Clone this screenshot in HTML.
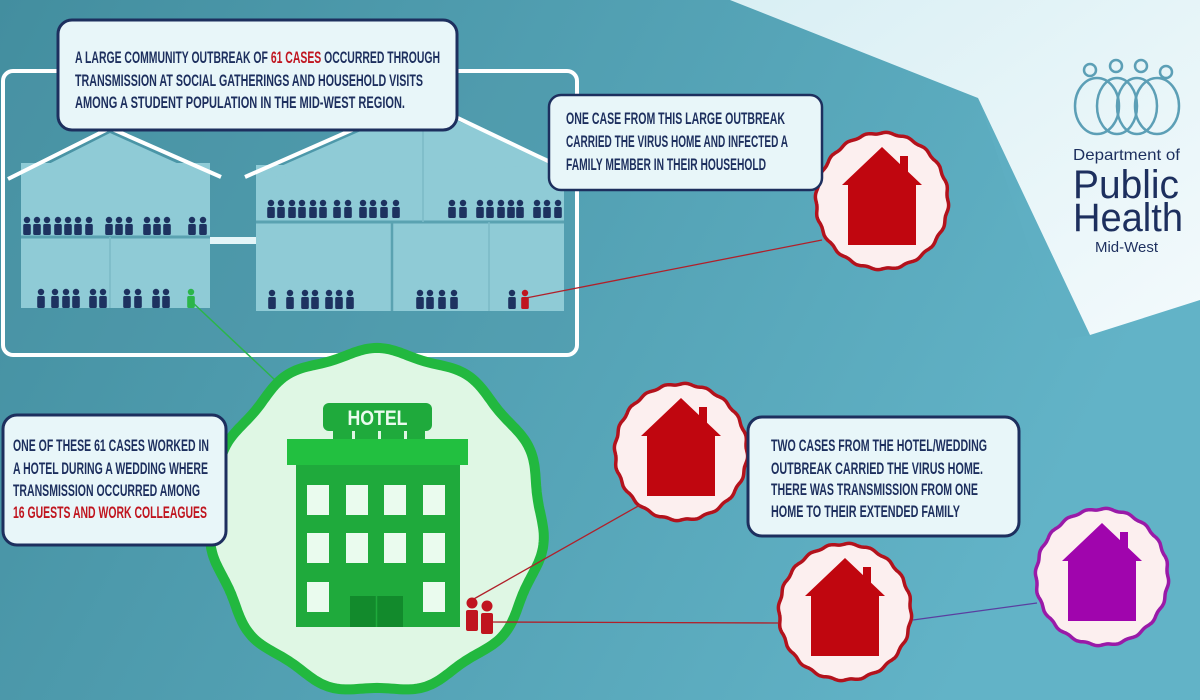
<!DOCTYPE html>
<html><head><meta charset="utf-8"><style>
html,body{margin:0;padding:0;width:1200px;height:700px;overflow:hidden}
svg{display:block}
text{font-family:"Liberation Sans Narrow","Liberation Sans",sans-serif;font-weight:bold}
.t{fill:#1d2f5e;font-size:17px}
.r{fill:#c0151f}
</style></head><body>
<svg id="s" width="1200" height="700" viewBox="0 0 1200 700" xmlns="http://www.w3.org/2000/svg">
<defs>
<linearGradient id="bg" x1="0" y1="0" x2="1" y2="0.3">
<stop offset="0" stop-color="#438e9f"/><stop offset="1" stop-color="#62b3c7"/></linearGradient>
<linearGradient id="lt" x1="0" y1="0" x2="1" y2="1">
<stop offset="0" stop-color="#d9eff4"/><stop offset="1" stop-color="#f3fafc"/></linearGradient>
</defs>
<rect width="1200" height="700" fill="url(#bg)"/>
<polygon points="730,0 1200,0 1200,300 1090,335 978,98" fill="url(#lt)"/>
<polygon points="978,98 1090,335 1060,340" fill="#5fb0c3" opacity="0.5"/>

<rect x="3" y="71" width="574" height="284" rx="10" fill="#4f97a8" fill-opacity="0.35" stroke="#fff" stroke-width="4"/>
<rect x="21" y="163" width="189" height="145" fill="#8fcbd6"/>
<polygon points="21,178 110,133 210,178" fill="#8fcbd6"/>
<polyline points="8,179 110,128 221,177" fill="none" stroke="#fff" stroke-width="4"/>
<line x1="21" y1="237" x2="210" y2="237" stroke="#5aa2b1" stroke-width="3"/>
<line x1="110" y1="237" x2="110" y2="308" stroke="#7bbac7" stroke-width="1.5"/>
<rect x="210" y="237" width="46" height="7" fill="#e4f5f8"/>
<rect x="256" y="165" width="308" height="146" fill="#8fcbd6"/>
<polygon points="256,177 420,105 564,165" fill="#8fcbd6"/>
<polyline points="245,177 420,100 550,162" fill="none" stroke="#fff" stroke-width="4"/>
<line x1="256" y1="222" x2="564" y2="222" stroke="#5aa2b1" stroke-width="3"/>
<line x1="423" y1="130" x2="423" y2="222" stroke="#7bbac7" stroke-width="1.5"/>
<line x1="392" y1="222" x2="392" y2="311" stroke="#5aa2b1" stroke-width="2.5"/>
<line x1="489" y1="222" x2="489" y2="311" stroke="#7bbac7" stroke-width="1.5"/>
<g id="people"></g>

<line x1="192" y1="302" x2="275" y2="380" stroke="#2bb54a" stroke-width="1.5"/>
<line x1="526" y1="298" x2="822" y2="240" stroke="#b0202a" stroke-width="1.3"/>

<g id="waves"></g>

<line x1="472" y1="600" x2="640" y2="505" stroke="#b0202a" stroke-width="1.3"/>
<line x1="487" y1="622" x2="779" y2="623" stroke="#b0202a" stroke-width="1.3"/>
<line x1="913" y1="620" x2="1037" y2="603" stroke="#5a3fa0" stroke-width="1.3"/>

<rect x="323" y="403" width="109" height="28" rx="6" fill="#1faa3c"/>
<text x="377.5" y="425" text-anchor="middle" fill="#eafbee" font-size="21" textLength="60" lengthAdjust="spacingAndGlyphs">HOTEL</text>
<rect x="333" y="431" width="92" height="8" fill="#1faa3c"/>
<rect x="352" y="431" width="3" height="8" fill="#dff7e4"/><rect x="378" y="431" width="3" height="8" fill="#dff7e4"/><rect x="404" y="431" width="3" height="8" fill="#dff7e4"/>
<rect x="296" y="465" width="164" height="162" fill="#1faa3c"/>
<rect x="287" y="439" width="181" height="26" fill="#22c040"/>
<g fill="#eafbee">
<rect x="307" y="485" width="22" height="30"/><rect x="346" y="485" width="22" height="30"/><rect x="384" y="485" width="22" height="30"/><rect x="423" y="485" width="22" height="30"/>
<rect x="307" y="533" width="22" height="30"/><rect x="346" y="533" width="22" height="30"/><rect x="384" y="533" width="22" height="30"/><rect x="423" y="533" width="22" height="30"/>
<rect x="307" y="582" width="22" height="30"/><rect x="423" y="582" width="22" height="30"/>
</g>
<rect x="350" y="596" width="53" height="31" fill="#128a2c"/>
<line x1="376.5" y1="596" x2="376.5" y2="627" stroke="#1faa3c" stroke-width="1.5"/>
<g fill="#c0151f">
<circle cx="472" cy="603" r="5.5"/><rect x="466" y="610" width="12" height="21" rx="2"/>
<circle cx="487" cy="606" r="5.5"/><rect x="481" y="613" width="12" height="21" rx="2"/>
</g>
<g id="houses"></g>

<rect x="58" y="20" width="399" height="110" rx="14" fill="#e8f6f9" stroke="#1d2f5e" stroke-width="3"/>
<text class="t" x="75" y="63" textLength="365" lengthAdjust="spacingAndGlyphs">A LARGE COMMUNITY OUTBREAK OF <tspan class="r">61 CASES</tspan> OCCURRED THROUGH</text>
<text class="t" x="75" y="86" textLength="348" lengthAdjust="spacingAndGlyphs">TRANSMISSION AT SOCIAL GATHERINGS AND HOUSEHOLD VISITS</text>
<text class="t" x="75" y="108" textLength="330" lengthAdjust="spacingAndGlyphs">AMONG A STUDENT POPULATION IN THE MID-WEST REGION.</text>

<rect x="549" y="95" width="273" height="95" rx="12" fill="#e8f6f9" stroke="#1d2f5e" stroke-width="2.5"/>
<text class="t" x="566" y="124" textLength="219" lengthAdjust="spacingAndGlyphs">ONE CASE FROM THIS LARGE OUTBREAK</text>
<text class="t" x="566" y="147" textLength="222" lengthAdjust="spacingAndGlyphs">CARRIED THE VIRUS HOME AND INFECTED A</text>
<text class="t" x="566" y="170" textLength="200" lengthAdjust="spacingAndGlyphs">FAMILY MEMBER IN THEIR HOUSEHOLD</text>

<rect x="3" y="415" width="223" height="130" rx="14" fill="#e8f6f9" stroke="#1d2f5e" stroke-width="3"/>
<text class="t" x="13" y="451" textLength="196" lengthAdjust="spacingAndGlyphs">ONE OF THESE 61 CASES WORKED IN</text>
<text class="t" x="13" y="474" textLength="195" lengthAdjust="spacingAndGlyphs">A HOTEL DURING A WEDDING WHERE</text>
<text class="t" x="13" y="496" textLength="187" lengthAdjust="spacingAndGlyphs">TRANSMISSION OCCURRED AMONG</text>
<text class="t r" x="13" y="518" textLength="194" lengthAdjust="spacingAndGlyphs">16 GUESTS AND WORK COLLEAGUES</text>

<rect x="748" y="417" width="271" height="119" rx="14" fill="#e8f6f9" stroke="#1d2f5e" stroke-width="3"/>
<text class="t" x="771" y="451" textLength="216" lengthAdjust="spacingAndGlyphs">TWO CASES FROM THE HOTEL/WEDDING</text>
<text class="t" x="771" y="474" textLength="212" lengthAdjust="spacingAndGlyphs">OUTBREAK CARRIED THE VIRUS HOME.</text>
<text class="t" x="771" y="495" textLength="207" lengthAdjust="spacingAndGlyphs">THERE WAS TRANSMISSION FROM ONE</text>
<text class="t" x="771" y="517" textLength="189" lengthAdjust="spacingAndGlyphs">HOME TO  THEIR EXTENDED FAMILY</text>

<g fill="none" stroke="#5c9fb6" stroke-width="2.5">
<circle cx="1090" cy="70" r="6"/><circle cx="1116" cy="66" r="6"/><circle cx="1141" cy="66" r="6"/><circle cx="1166" cy="72" r="6"/>
<ellipse cx="1097" cy="106" rx="22" ry="28"/><ellipse cx="1117" cy="106" rx="20" ry="28"/><ellipse cx="1137" cy="106" rx="20" ry="28"/><ellipse cx="1157" cy="106" rx="22" ry="28"/>
</g>
<g fill="#1d2f5e">
<text x="1073" y="160" font-size="16" style="font-weight:normal;font-family:'Liberation Sans',sans-serif" textLength="107" lengthAdjust="spacingAndGlyphs">Department of</text>
<text x="1073" y="198" font-size="40" style="font-weight:normal;font-family:'Liberation Sans',sans-serif" textLength="106" lengthAdjust="spacingAndGlyphs">Public</text>
<text x="1073" y="231" font-size="40" style="font-weight:normal;font-family:'Liberation Sans',sans-serif" textLength="110" lengthAdjust="spacingAndGlyphs">Health</text>
<text x="1095" y="252" font-size="15" style="font-weight:normal;font-family:'Liberation Sans',sans-serif" textLength="63" lengthAdjust="spacingAndGlyphs">Mid-West</text>
</g>
</svg>
<script>
var NS="http://www.w3.org/2000/svg";
function el(p,tag,a){var e=document.createElementNS(NS,tag);for(var k in a)e.setAttribute(k,a[k]);p.appendChild(e);return e;}
var pg=document.getElementById("people");
function person(x,yHead,yFeet,c){el(pg,"circle",{cx:x,cy:yHead+3,r:3.2,fill:c});el(pg,"rect",{x:x-3.8,y:yHead+7,width:7.6,height:yFeet-yHead-7,rx:1.5,fill:c});}
var N="#1d3260";
[27,37,47,58,68,78,89,109,119,129,147,157,167,192,203].forEach(function(x){person(x,217,235,N)});
[41,55,66,76,93,103,127,138,156,166].forEach(function(x){person(x,289,308,N)});
person(191,289,308,"#2bb54a");
[271,281,292,302,313,323,337,348,363,373,384,396,452,463,480,490,501,511,520,537,547,558].forEach(function(x){person(x,200,218,N)});
[272,290,305,315,329,339,350,420,430,442,454,512].forEach(function(x){person(x,290,309,N)});
person(525,290,309,"#c0151f");
var wg=document.getElementById("waves");
function wavy(cx,cy,rx,ry,n,amp,fill,stroke,sw){var d="";for(var i=0;i<=360;i++){var t=i/360*2*Math.PI;var f=1+amp*Math.sin(n*t);var x=cx+rx*f*Math.cos(t),y=cy+ry*f*Math.sin(t);d+=(i?"L":"M")+x.toFixed(1)+","+y.toFixed(1);}el(wg,"path",{d:d+"Z",fill:fill,stroke:stroke,"stroke-width":sw});}
wavy(377,521,165,170,11,0.018,"#dff7e4","#22b83f",10);
var hg=document.getElementById("houses");
function house(cx,cy,c,ring){wavy(cx,cy,66,68,20,0.012,"#fcefef",ring,3.5);
el(hg,"polygon",{points:[cx,cy-54,cx+40,cy-16,cx+34,cy-16,cx+34,cy+44,cx-34,cy+44,cx-34,cy-16,cx-40,cy-16].join(" "),fill:c});
el(hg,"rect",{x:cx+18,y:cy-45,width:8,height:22,fill:c});}
house(882,201,"#c0060f","#b3121c");
house(681,452,"#c0060f","#b3121c");
house(845,612,"#c0060f","#b3121c");
house(1102,577,"#a005ad","#9a1aa8");
</script>
</body></html>
